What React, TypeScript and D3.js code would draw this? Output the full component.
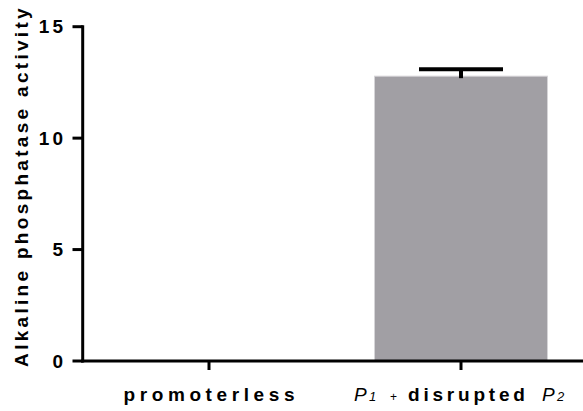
import React from "react";
import * as d3 from "d3";

const categories = ["promoterless", "P1 + disrupted P2"];
const means = [0, 12.78];
const errors = [0, 0.31];
const yTicks = [0, 5, 10, 15];
const yTitle = "Alkaline phosphatase activity";

const W = 583;
const H = 411;
const FONT = "'Liberation Sans', Arial, sans-serif";

export default function App() {
  const y = d3.scaleLinear().domain([0, 15]).range([361, 26.7]);
  const p = 0.3135;
  const x = d3
    .scaleBand<string>()
    .domain(categories)
    .range([83, 587])
    .paddingInner(p)
    .paddingOuter(p / 2);

  const axisX = 82.7;
  const lw = 3;
  const c2 = x(categories[1])! + x.bandwidth() / 2;

  return (
    <svg
      width={W}
      height={H}
      style={{ position: "absolute", left: 0, top: 0, background: "#fff" }}
      fontFamily={FONT}
    >
      {/* bars */}
      {categories.map((c, i) => {
        const x0 = x(c)!;
        const bw = x.bandwidth();
        const top = y(means[i]);
        const h = y(0) - top;
        if (h <= 0) return null;
        const cx = x0 + bw / 2;
        const eTop = y(means[i] + errors[i]);
        return (
          <g key={c}>
            <rect x={x0} y={top} width={bw} height={h} fill="#a19fa4" stroke="#d6d5d8" strokeWidth={1} />
            <line x1={cx} x2={cx} y1={top + 2} y2={eTop} stroke="#000" strokeWidth={4} />
            <line x1={cx - 42} x2={cx + 42} y1={eTop} y2={eTop} stroke="#000" strokeWidth={4} />
          </g>
        );
      })}

      {/* y axis */}
      <line x1={axisX} x2={axisX} y1={y(15) - lw / 2} y2={y(0) + lw / 2} stroke="#000" strokeWidth={lw} />
      {yTicks.map((t) => (
        <g key={t}>
          <line x1={72.5} x2={axisX} y1={y(t)} y2={y(t)} stroke="#000" strokeWidth={lw} />
          <text
            x={66}
            y={y(t)}
            textAnchor="end"
            dominantBaseline="central"
            fontSize={19}
            fontWeight="bold"
            letterSpacing={3}
            fill="#000"
          >
            {t}
          </text>
        </g>
      ))}

      {/* x axis */}
      <line x1={axisX - lw / 2} x2={583} y1={y(0)} y2={y(0)} stroke="#000" strokeWidth={lw} />
      {categories.map((c) => {
        const cx = x(c)! + x.bandwidth() / 2;
        return <line key={c} x1={cx} x2={cx} y1={y(0)} y2={370} stroke="#000" strokeWidth={lw} />;
      })}

      {/* x labels */}
      <text
        x={x(categories[0])! + x.bandwidth() / 2 + 2.3}
        y={401}
        textAnchor="middle"
        fontSize={19}
        fontWeight="bold"
        letterSpacing={4.6}
        fill="#000"
      >
        {categories[0]}
      </text>
      <text y={401} fontSize={19} fill="#000">
        <tspan x={c2 - 107} fontStyle="italic">P</tspan>
        <tspan x={c2 - 92} fontStyle="italic" fontSize={13}>1</tspan>
        <tspan x={c2 - 71} fontSize={12}>+</tspan>
        <tspan x={c2 - 53} fontWeight="bold" letterSpacing={3.8}>disrupted</tspan>
        <tspan x={c2 + 81} fontStyle="italic">P</tspan>
        <tspan x={c2 + 96} fontStyle="italic" fontSize={13}>2</tspan>
      </text>

      {/* y title */}
      <text
        transform={`translate(21,186) rotate(-90)`}
        textAnchor="middle"
        dominantBaseline="central"
        fontSize={19}
        fontWeight="bold"
        letterSpacing={3.3}
        fill="#000"
      >
        {yTitle}
      </text>
    </svg>
  );
}
